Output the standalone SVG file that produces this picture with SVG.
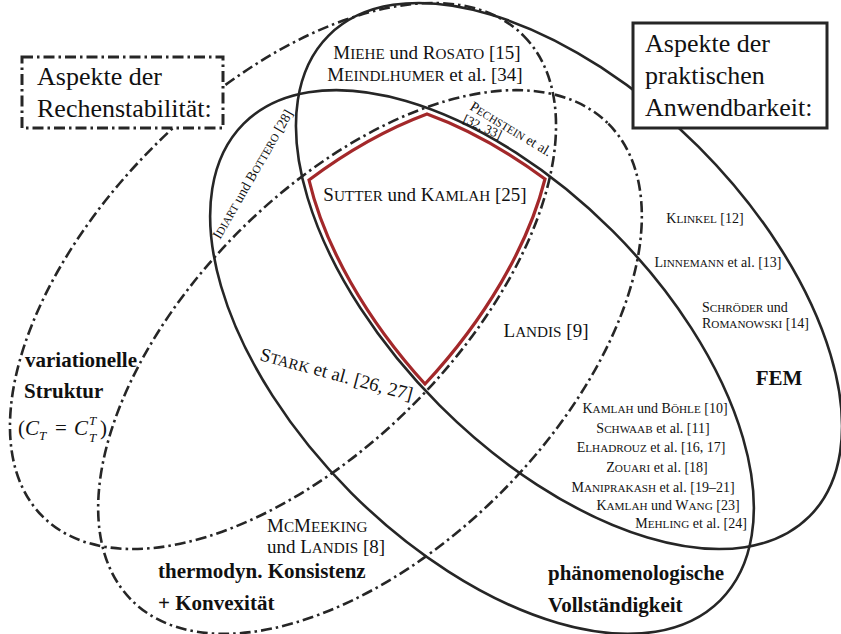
<svg xmlns="http://www.w3.org/2000/svg" width="841" height="634" viewBox="0 0 841 634">
<style>
.ln{fill:none;stroke:#262626;stroke-width:2.6}
.dd{stroke-dasharray:11 4 2.5 4}
.t{font-family:"Liberation Serif","Times New Roman",serif;fill:#111}
.b{font-weight:bold;font-size:21px}
.sc{font-size:80%}
.it{font-style:italic}
.box{fill:#fff;stroke:#262626;stroke-width:3}
</style>
<rect width="841" height="634" fill="#fff"/>
<g id="sets">
<ellipse class="ln dd" cx="283" cy="276" rx="340" ry="183" transform="rotate(-45 283 276)"/>
<ellipse class="ln dd" cx="370" cy="362" rx="337" ry="185" transform="rotate(-45 370 362)"/>
<ellipse class="ln" cx="569" cy="276" rx="340" ry="183" transform="rotate(45 569 276)"/>
<ellipse class="ln" cx="482" cy="362" rx="337" ry="185" transform="rotate(45 482 362)"/>
</g>
<g id="core">
<path d="M309,180 A337,185 -45 0 1 427,114 A337,185 45 0 1 545,179 A340,183 -45 0 1 425,384 A340,183 45 0 1 309,180 Z" fill="none" stroke="#a3282a" stroke-width="3.2" stroke-linejoin="miter"/>
<text class="t" x="425" y="201" font-size="19" text-anchor="middle">S<tspan class="sc">UTTER</tspan> und K<tspan class="sc">AMLAH</tspan> [25]</text>
</g>
<g id="box-rechen">
<rect class="box dd" x="22" y="57" width="201" height="71"/>
<text class="t" x="37" y="85" font-size="26">Aspekte der</text>
<text class="t" x="37" y="117" font-size="26">Rechenstabilität:</text>
</g>
<g id="box-praxis">
<rect class="box" x="633" y="23" width="194" height="105"/>
<text class="t" x="645" y="52" font-size="26">Aspekte der</text>
<text class="t" x="645" y="84" font-size="26">praktischen</text>
<text class="t" x="645" y="116" font-size="26">Anwendbarkeit:</text>
</g>
<g id="miehe">
<text class="t" x="427" y="59" font-size="19" text-anchor="middle">M<tspan class="sc">IEHE</tspan> und R<tspan class="sc">OSATO</tspan> [15]</text>
<text class="t" x="425" y="81" font-size="19" text-anchor="middle">M<tspan class="sc">EINDLHUMER</tspan> et al. [34]</text>
</g>
<g id="pechstein">
<text class="t" font-size="14" transform="translate(469,109) rotate(31)">P<tspan class="sc">ECHSTEIN</tspan> et al.</text>
<text class="t" font-size="13" transform="translate(462,122) rotate(25)">[32, 33]</text>
</g>
<g id="idiart">
<text class="t" font-size="14" transform="translate(220,240) rotate(-60)">I<tspan class="sc">DIART</tspan> und B<tspan class="sc">OTTERO</tspan> [28]</text>
</g>
<g id="stark">
<text class="t" font-size="19" transform="translate(259,360) rotate(15)">S<tspan class="sc">TARK</tspan> et al. [26, 27]</text>
</g>
<g id="landis">
<text class="t" x="546" y="337" font-size="19" text-anchor="middle">L<tspan class="sc">ANDIS</tspan> [9]</text>
</g>
<g id="fem-refs">
<text class="t" x="705" y="223" font-size="14" text-anchor="middle">K<tspan class="sc">LINKEL</tspan> [12]</text>
<text class="t" x="718" y="267" font-size="14" text-anchor="middle">L<tspan class="sc">INNEMANN</tspan> et al. [13]</text>
<text class="t" x="702" y="312" font-size="14">S<tspan class="sc">CHRÖDER</tspan> und</text>
<text class="t" x="702" y="328" font-size="14">R<tspan class="sc">OMANOWSKI</tspan> [14]</text>
</g>
<g id="fem">
<text class="t b" x="779" y="385" text-anchor="middle">FEM</text>
</g>
<g id="list">
<text class="t" x="655" y="413" font-size="14" text-anchor="middle">K<tspan class="sc">AMLAH</tspan> und B<tspan class="sc">ÖHLE</tspan> [10]</text>
<text class="t" x="653" y="433" font-size="14" text-anchor="middle">S<tspan class="sc">CHWAAB</tspan> et al. [11]</text>
<text class="t" x="651" y="452" font-size="14" text-anchor="middle">E<tspan class="sc">LHADROUZ</tspan> et al. [16, 17]</text>
<text class="t" x="657" y="472" font-size="14" text-anchor="middle">Z<tspan class="sc">OUARI</tspan> et al. [18]</text>
<text class="t" x="653" y="492" font-size="14" text-anchor="middle">M<tspan class="sc">ANIPRAKASH</tspan> et al. [19–21]</text>
<text class="t" x="668" y="510" font-size="14" text-anchor="middle">K<tspan class="sc">AMLAH</tspan> und W<tspan class="sc">ANG</tspan> [23]</text>
<text class="t" x="691" y="528" font-size="14" text-anchor="middle">M<tspan class="sc">EHLING</tspan> et al. [24]</text>
</g>
<g id="variation">
<text class="t b" x="25" y="367">variationelle</text>
<text class="t b" x="24" y="398">Struktur</text>
<text class="t" x="18" y="435" font-size="21">(<tspan class="it" x="25">C</tspan><tspan class="it" x="39" y="440" font-size="13">T</tspan><tspan x="55" y="435">=</tspan><tspan class="it" x="74">C</tspan></text>
<text class="t it" x="89" y="425" font-size="13">T</text>
<text class="t it" x="89" y="442" font-size="13">T</text>
<text class="t" x="100" y="435" font-size="21">)</text>
</g>
<g id="mcmeeking">
<text class="t" x="267" y="532" font-size="19">M<tspan class="sc">C</tspan>M<tspan class="sc">EEKING</tspan></text>
<text class="t" x="267" y="553" font-size="19">und L<tspan class="sc">ANDIS</tspan> [8]</text>
</g>
<g id="thermo">
<text class="t b" x="158" y="578">thermodyn. Konsistenz</text>
<text class="t b" x="158" y="610">+ Konvexität</text>
</g>
<g id="phaeno">
<text class="t b" x="548" y="580">phänomenologische</text>
<text class="t b" x="548" y="612">Vollständigkeit</text>
</g>
</svg>
